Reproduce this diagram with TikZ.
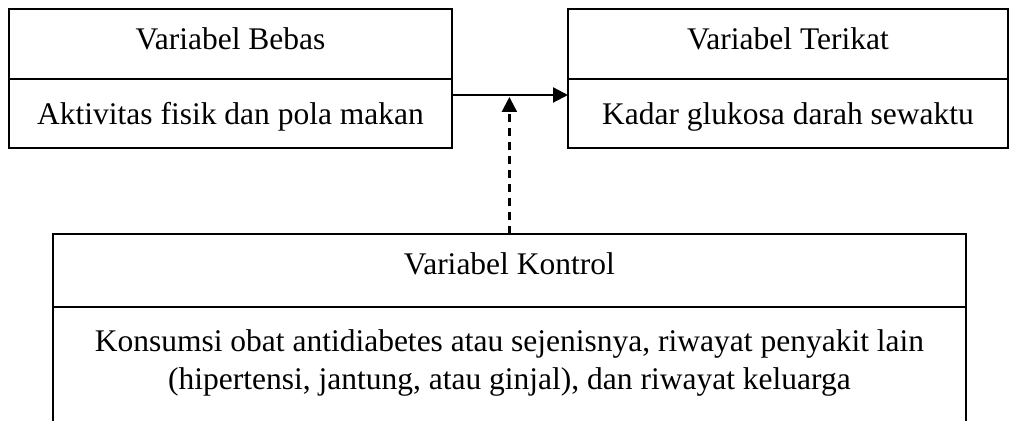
\documentclass[tikz,border=0pt]{standalone}
\usepackage{fontspec}
\setmainfont{Liberation Serif}
\usetikzlibrary{arrows.meta}
\usetikzlibrary{calc}
\usetikzlibrary{positioning}

\begin{document}
\begin{tikzpicture}[x=0.5pt, y=-0.5pt, auto, >={Triangle[length=7.5pt,width=7.5pt]}]
    \fontsize{15.75}{19}\selectfont

    % TikZ styles for drawing %%%%%%%%%%%%%%%%%%%%%%%%%%%%%%%%%%%%%%%%%%%%%%%%%%%%%%
    \tikzstyle{cell} = [draw,rectangle,line width=1.1pt,outer sep=0pt,inner sep=0pt,align=center]
    \tikzstyle{head} = [cell,minimum height=35pt,text height=11pt,text depth=5pt]
    \tikzstyle{item} = [cell,minimum height=34.5pt,text height=11.5pt,text depth=0pt]
    \tikzstyle{connector} = [->,line width=1.1pt]
    \tikzstyle{dashedconnector} = [connector,dash pattern=on 4pt off 3pt]

    \useasboundingbox (0,0) rectangle (1009,421);

    % Node placement %%%%%%%%%%%%%%%%%%%%%%%%%%%%%%%%%%%%%%%%%%%%%%%%%%%%%%%%%%%%%%%%%
    \node[head, minimum width=221.5pt] (bebasT) at (230.5,44) {Variabel Bebas};
    \node[item, minimum width=221.5pt, below=0pt of bebasT] (bebasI) {Aktivitas fisik dan pola makan};

    \node[head, minimum width=220pt] (terikatT) at (788,44) {Variabel Terikat};
    \node[item, minimum width=220pt, below=0pt of terikatT] (terikatI) {Kadar glukosa darah sewaktu};

    \node[head, minimum width=456.5pt, minimum height=36.5pt, text depth=6.5pt] (kontrolT) at (509.4,270.5) {Variabel Kontrol};
    \node[cell, minimum width=456.5pt, minimum height=70pt, below=0pt of kontrolT] (kontrolI) {};
    \node[align=center, inner sep=0pt, below=11.1pt of kontrolI.north] (kontrolTxt)
        {Konsumsi obat antidiabetes atau sejenisnya, riwayat penyakit lain\\
         (hipertensi, jantung, atau ginjal), dan riwayat keluarga};

    \coordinate (junction) at ($(kontrolT.north |- bebasI.east) + (0,8.25pt)$);

    % Now link the nodes %%%%%%%%%%%%%%%%%%%%%%%%%%%%%%%%%%%%%%%%%%%%%%%%%%%%%%%%%%%%%%%%
    \draw [connector]       ([yshift=9.25pt]bebasI.east) -- ([yshift=9.25pt]terikatI.west);
    \draw [dashedconnector] (kontrolT.north) -- (junction);

\end{tikzpicture}
\end{document}
